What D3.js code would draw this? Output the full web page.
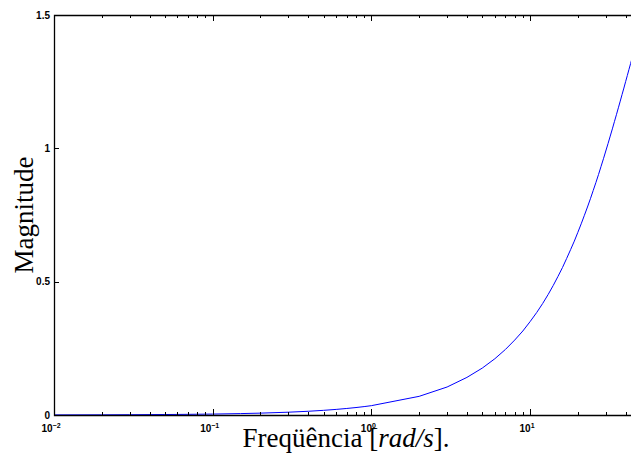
<!DOCTYPE html>
<meta charset='utf-8'>
<title>Magnitude vs frequencia</title>
<style>
html, body { margin: 0; padding: 0; background: #fff; }
svg { display: block; }
.tick-lbl { font-family: 'Liberation Sans', Arial, sans-serif; font-weight: bold; font-size: 10px; }
.axis-title { font-family: 'Liberation Serif', 'Times New Roman', serif; font-size: 27px; }
</style>
<script src='https://d3js.org/d3.v7.min.js'></script>
<body>
<div id='chart'></div>
<script>
// frequency samples [rad/s] and magnitude
var freq = [0.01, 0.02, 0.03, 0.05, 0.07, 0.1, 0.15, 0.2, 0.3, 0.4, 0.5, 0.6, 0.7, 0.8, 0.9,
  1, 2, 3, 4, 5, 6, 7, 8, 9, 10, 11, 12, 13, 14, 15, 16, 17, 18, 19, 20,
  21, 22, 23, 24, 25, 26, 27, 28, 29, 30, 31, 32, 33, 34, 35, 36, 37, 38, 39, 40,
  41, 42, 43, 44, 45];
var magnitude = [0.0004, 0.0007, 0.0011, 0.0018, 0.0025, 0.0035, 0.0053, 0.007, 0.0105, 0.014,
  0.0175, 0.021, 0.0245, 0.028, 0.0315,
  0.035, 0.070, 0.105, 0.141, 0.176, 0.211, 0.246, 0.281, 0.315, 0.350,
  0.384, 0.418, 0.452, 0.486, 0.520, 0.553, 0.587, 0.620, 0.652, 0.685,
  0.717, 0.749, 0.780, 0.811, 0.842, 0.872, 0.902, 0.932, 0.961, 0.990,
  1.018, 1.046, 1.073, 1.100, 1.126, 1.152, 1.177, 1.202, 1.226, 1.250,
  1.273, 1.296, 1.318, 1.340, 1.361];
var yTicks = [0, 0.5, 1, 1.5];
var yTickLabels = ['0', '0.5', '1', '1.5'];
var xDecades = [-2, -1, 0, 1];

(function () {
  var W = 631, H = 455;
  // plot box (right edge falls outside the picture, as in the original crop)
  var pLeft = 54, pTop = 15, pBottom = 415, pRight = 641;

  var svg = d3.select('#chart').append('svg')
    .attr('width', W)
    .attr('height', H);

  var x = d3.scaleLog().domain([0.01, 50]).range([pLeft, pRight]);
  var y = d3.scaleLinear().domain([0, 1.5]).range([pBottom, pTop]);

  svg.append('clipPath').attr('id', 'plotclip')
    .append('rect')
    .attr('x', pLeft).attr('y', pTop)
    .attr('width', pRight - pLeft).attr('height', pBottom - pTop);

  var pts = freq.map(function (f, i) { return [f, magnitude[i]]; });

  var line = d3.line()
    .x(function (d) { return x(d[0]); })
    .y(function (d) { return y(d[1]); });

  svg.append('path')
    .datum(pts)
    .attr('clip-path', 'url(#plotclip)')
    .attr('fill', 'none')
    .attr('stroke', '#0000ff')
    .attr('stroke-width', 1)
    .attr('d', line);

  // x ticks, bottom and top, pointing inward
  var xTickVals = x.ticks().filter(function (v) { return v >= 0.01 && v <= 50; });
  var g = svg.append('g');
  xTickVals.forEach(function (v) {
    var major = Math.abs(Math.log10(v) - Math.round(Math.log10(v))) < 1e-9;
    var len = major ? 6 : 3;
    var px = Math.round(x(v)) + 0.5;
    g.append('line').attr('x1', px).attr('x2', px)
      .attr('y1', pBottom).attr('y2', pBottom - len)
      .attr('stroke', '#000').attr('stroke-width', 1);
    g.append('line').attr('x1', px).attr('x2', px)
      .attr('y1', pTop).attr('y2', pTop + len)
      .attr('stroke', '#000').attr('stroke-width', 1);
  });

  // y ticks on left
  yTicks.forEach(function (v) {
    var py = Math.round(y(v)) + 0.5;
    g.append('line').attr('x1', pLeft).attr('x2', pLeft + 5)
      .attr('y1', py).attr('y2', py)
      .attr('stroke', '#000').attr('stroke-width', 1);
  });

  // axis lines (top, left, bottom)
  svg.append('path')
    .attr('d', 'M' + pRight + ',' + (pTop + 0.5) + 'H' + (pLeft + 0.5) + 'V' + (pBottom + 0.5) + 'H' + pRight)
    .attr('fill', 'none')
    .attr('stroke', '#000')
    .attr('stroke-width', 1.3);

  // y tick labels
  svg.selectAll('.ylbl')
    .data(yTicks)
    .enter().append('text')
    .attr('class', 'tick-lbl ylbl')
    .attr('x', pLeft - 4)
    .attr('y', function (d) { return y(d) + 3.5; })
    .attr('text-anchor', 'end')
    .text(function (d, i) { return yTickLabels[i]; });

  // x tick labels 10^n
  xDecades.forEach(function (e) {
    var t = svg.append('text')
      .attr('class', 'tick-lbl')
      .attr('x', x(Math.pow(10, e)) - 3)
      .attr('y', pBottom + 17)
      .attr('text-anchor', 'middle');
    t.append('tspan').text('10');
    t.append('tspan')
      .attr('dy', -4)
      .attr('font-size', '7px')
      .text(String(e).replace('-', '\u2212'));
  });

  // axis titles
  var xt = svg.append('text')
    .attr('class', 'axis-title')
    .attr('x', 346)
    .attr('y', 447)
    .attr('text-anchor', 'middle');
  xt.append('tspan').text('Freqüência [');
  xt.append('tspan').attr('font-style', 'italic').text('rad/s');
  xt.append('tspan').text('].');

  svg.append('text')
    .attr('class', 'axis-title')
    .attr('transform', 'translate(33,215) rotate(-90)')
    .attr('text-anchor', 'middle')
    .text('Magnitude');
})();
</script>
</body>
